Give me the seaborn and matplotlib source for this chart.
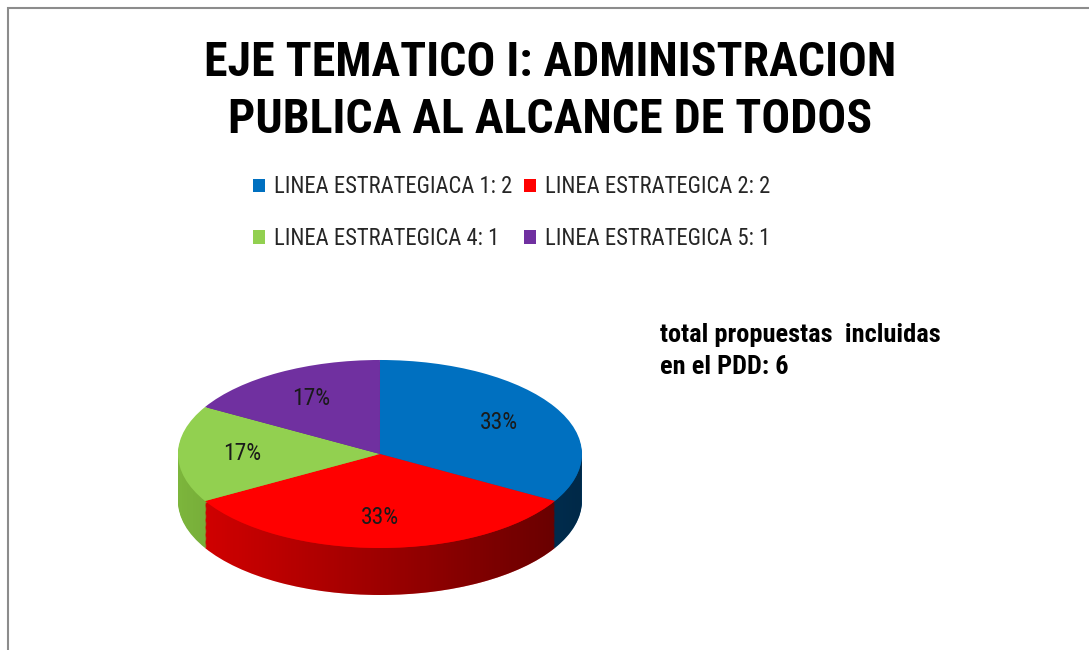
import numpy as np
import matplotlib
matplotlib.use('Agg')
import matplotlib.pyplot as plt
import seaborn as sns
from matplotlib import font_manager
from matplotlib.patches import Rectangle, PathPatch
from matplotlib.path import Path

sns.set_theme(style='white')

# pick a narrow font close to Calibri if one is there
installed = {f.name for f in font_manager.fontManager.ttflist}
base_font = 'DejaVu Sans'
for cand in ['Roboto Condensed', 'Liberation Sans Narrow', 'DejaVu Sans Condensed', 'Open Sans', 'Lato']:
    if cand in installed:
        base_font = cand
        break
plt.rcParams['font.family'] = [base_font, 'DejaVu Sans']

# data
lineas = ['LINEA ESTRATEGIACA 1: 2', 'LINEA ESTRATEGICA 2: 2',
          'LINEA ESTRATEGICA 4: 1', 'LINEA ESTRATEGICA 5: 1']
propuestas = [2, 2, 1, 1]
colores = ['#0070C0', '#FF0000', '#92D050', '#7030A0']
colores_lado = ['#005a9e', '#d80000', '#7cb53c', '#5c2686']
titulo = 'EJE TEMATICO I: ADMINISTRACION\nPUBLICA AL ALCANCE DE TODOS'
nota = 'total propuestas  incluidas\nen el PDD: 6'

fig = plt.figure(figsize=(10.89, 6.5), dpi=100)
ax = fig.add_axes([0.1449, 0.0557, 0.408, 0.4194])

depth = 0.5
# side of the 3d pie: the same pie stacked downwards
for off in np.linspace(depth, 0.02, 40):
    ax.pie(propuestas, colors=colores_lado, startangle=90, counterclock=False,
           center=(0, -off), wedgeprops=dict(linewidth=0))

# light from the left: darken the side towards the right
t = np.linspace(np.pi, 2 * np.pi, 120)
xs = np.concatenate([np.cos(t), np.cos(t[::-1])])
ys = np.concatenate([np.sin(t), np.sin(t[::-1]) - depth])
clip = PathPatch(Path(np.column_stack([xs, ys])), facecolor='none', edgecolor='none')
ax.add_patch(clip)
shade = np.zeros((1, 256, 4))
shade[0, :, 3] = np.linspace(0.0, 0.55, 256)
im = ax.imshow(shade, extent=[-1, 1, -1 - depth, 0.2], aspect='auto', zorder=5)
im.set_clip_path(clip)

wedges, _, pcts = ax.pie(propuestas, colors=colores, startangle=90, counterclock=False,
                         autopct='%1.0f%%', pctdistance=0.68,
                         wedgeprops=dict(linewidth=0),
                         textprops=dict(fontsize=17, color='#1a1a1a'))
for w in wedges:
    w.set_zorder(10)
for p in pcts:
    p.set_zorder(11)

ax.set_aspect('auto')
ax.set_xlim(-1.1, 1.1)
ax.set_ylim(-1.7, 1.2)
ax.axis('off')

fig.text(0.505, 0.859, titulo, ha='center', va='center', fontsize=34.5,
         fontweight='bold', linespacing=1.31, color='black')

orden = [0, 2, 1, 3]
fig.legend([wedges[i] for i in orden], [lineas[i] for i in orden],
           loc='center', bbox_to_anchor=(0.47, 0.673), ncol=2, frameon=False,
           fontsize=16.3, handlelength=0.55, handleheight=0.55, handletextpad=0.4,
           labelspacing=1.25, columnspacing=0.5)

fig.text(0.606, 0.460, nota, ha='left', va='center', fontsize=19,
         fontweight='bold', linespacing=1.4, color='black')

fig.patches.append(Rectangle((8 / 1089, -0.1), 1.2, (642 / 650) + 0.1,
                             transform=fig.transFigure, fill=False,
                             edgecolor='#8c8c8c', linewidth=1.5))

fig.savefig('out.png', dpi=100)
